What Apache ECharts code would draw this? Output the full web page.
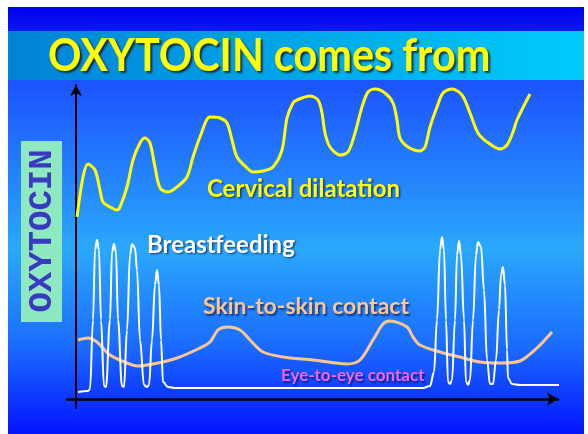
<!DOCTYPE html>
<html>
<head>
<meta charset="utf-8">
<script src="https://cdn.jsdelivr.net/npm/echarts@6/dist/echarts.min.js"></script>
<style>
  html, body { margin: 0; padding: 0; background: #ffffff; }
  #chart { width: 588px; height: 434px; }
</style>
</head>
<body>
<div id="chart"></div>
<script>
// values: x = time, y = oxytocin level (same units on all curves)
const cervical = [
  [1, 182], [7, 222], [12, 235], [19, 229], [24, 209], [27, 197], [34, 192], [41, 189],
  [44, 192], [51, 212], [57, 239], [64, 256], [69, 261], [74, 256], [79, 232], [84, 211],
  [92, 207], [101, 212], [111, 222], [117, 242], [124, 262], [134, 282], [144, 281], [151, 276],
  [156, 259], [161, 242], [171, 231], [177, 227], [187, 228], [197, 232], [206, 249], [211, 281],
  [217, 296], [221, 299], [234, 303], [242, 299], [246, 286], [249, 266], [254, 252], [264, 244],
  [272, 247], [279, 266], [286, 292], [292, 307], [299, 310], [309, 306], [317, 296], [321, 279],
  [324, 261], [332, 252], [344, 248], [349, 252], [354, 272], [361, 292], [367, 306], [376, 310],
  [386, 304], [394, 286], [402, 266], [411, 257], [424, 250], [431, 254], [437, 267], [441, 279],
  [454, 305]
];

const breastfeeding = [
  [2, 7], [12, 8], [14, 10], [17, 79], [19, 149], [21, 159], [23, 149], [25, 79], [28, 13],
  [30, 12], [34, 79], [36, 147], [38, 155], [40, 147], [42, 79], [46, 13],
  [48, 12], [51, 69], [54, 144], [56, 155], [59, 151], [61, 129], [64, 59], [68, 14],
  [71, 12], [73, 14], [76, 59], [79, 114], [81, 129], [83, 114], [85, 59], [87, 17],
  [92, 12], [99, 11], [224, 11], [347, 11],
  [354, 13], [358, 27], [361, 79], [364, 149], [366, 162], [368, 149], [370, 79], [372, 17],
  [374, 15], [376, 19], [379, 79], [381, 144], [383, 158], [385, 144], [388, 79], [390, 17],
  [392, 14], [394, 19], [397, 79], [400, 144], [402, 157], [405, 152], [408, 109], [411, 39],
  [414, 15], [417, 15], [420, 39], [423, 89], [425, 124], [427, 132], [429, 114], [431, 49],
  [432, 21], [436, 15], [444, 14], [508, 14]
];

const skinToSkin = [
  [2, 59], [12, 61], [21, 57], [34, 44], [51, 36], [61, 33], [77, 35], [101, 41],
  [124, 51], [134, 57], [142, 69], [151, 72], [164, 69], [174, 59], [187, 47], [207, 42],
  [237, 39], [271, 35], [284, 39], [297, 59], [307, 75], [314, 78], [331, 72], [337, 62],
  [344, 54], [364, 47], [384, 42], [404, 37], [424, 36], [444, 38], [461, 51], [476, 67]
];

const labels = [
  { text: 'Cervical dilatation', x: 207, y: 189, color: '#ffff00', size: 24 },
  { text: 'Breastfeeding', x: 147, y: 245, color: '#ffffff', size: 24 },
  { text: 'Skin-to-skin contact', x: 203, y: 307, color: '#fcc68e', size: 23 },
  { text: 'Eye-to-eye contact', x: 281, y: 376, color: '#f466e6', size: 17 }
];

const chart = echarts.init(document.getElementById('chart'));

const labelFont = 'Lato, "Open Sans", sans-serif';

const graphics = [
  {
    type: 'rect', z: -10, silent: true,
    shape: { x: 8, y: 7, width: 576, height: 24 },
    style: { fill: { type: 'linear', x: 0, y: 0, x2: 0, y2: 1,
      colorStops: [{ offset: 0, color: '#0000f0' }, { offset: 1, color: '#0a18f2' }] } }
  },
  {
    type: 'rect', z: -10, silent: true,
    shape: { x: 8, y: 31, width: 576, height: 49 },
    style: { fill: { type: 'linear', x: 0, y: 0, x2: 1, y2: 0,
      colorStops: [{ offset: 0, color: '#0082d6' }, { offset: 1, color: '#00ccfa' }] } }
  },
  {
    type: 'rect', z: -10, silent: true,
    shape: { x: 8, y: 80, width: 576, height: 354 },
    style: { fill: { type: 'linear', x: 0, y: 0, x2: 0, y2: 1,
      colorStops: [
        { offset: 0, color: '#1c52ff' },
        { offset: 0.48, color: '#2aa8fc' },
        { offset: 0.75, color: '#1b6cff' },
        { offset: 1, color: '#0414ff' }
      ] } }
  },
  {
    type: 'text', z: 10,
    x: 48, y: 56, scaleX: 0.9,
    style: {
      text: 'OXYTOCIN comes from',
      fill: '#ffff00',
      font: 'bold 46px Lato, sans-serif',
      textVerticalAlign: 'middle',
      textShadowColor: 'rgba(20,20,40,0.8)',
      textShadowOffsetX: 2,
      textShadowOffsetY: 2,
      textShadowBlur: 2
    }
  },
  {
    type: 'rect', z: 5,
    shape: { x: 21, y: 141, width: 41, height: 181 },
    style: { fill: '#8ee8c0' }
  },
  {
    type: 'text', z: 6,
    x: 42, y: 231, rotation: Math.PI / 2,
    style: {
      text: 'OXYTOCIN',
      fill: '#3a3ac0',
      font: 'bold 34px "Liberation Mono", "DejaVu Sans Mono", monospace',
      textAlign: 'center',
      textVerticalAlign: 'middle'
    }
  }
];

labels.forEach(function (l) {
  graphics.push({
    type: 'text', z: 10,
    x: l.x, y: l.y,
    style: {
      text: l.text,
      fill: l.color,
      font: 'bold ' + l.size + 'px ' + labelFont,
      textVerticalAlign: 'middle',
      textShadowColor: 'rgba(0,0,60,0.6)',
      textShadowOffsetX: 1.5,
      textShadowOffsetY: 1.5,
      textShadowBlur: 2
    }
  });
});

const option = {
  animation: false,
  graphic: graphics,
  grid: { left: 67, top: 85, width: 491, height: 323 },
  xAxis: {
    type: 'value',
    min: -9,
    max: 482,
    splitLine: { show: false },
    axisTick: { show: false },
    axisLabel: { show: false },
    axisLine: {
      onZero: true,
      symbol: ['none', 'arrow'],
      symbolSize: [10, 11],
      lineStyle: { color: '#000000', width: 2.5 }
    }
  },
  yAxis: {
    type: 'value',
    min: -9,
    max: 314,
    splitLine: { show: false },
    axisTick: { show: false },
    axisLabel: { show: false },
    axisLine: {
      onZero: true,
      symbol: ['none', 'arrow'],
      symbolSize: [9, 11],
      lineStyle: { color: '#000000', width: 2 }
    }
  },
  series: [
    {
      name: 'Cervical dilatation',
      type: 'line',
      data: cervical,
      smooth: 0.3,
      showSymbol: false,
      clip: false,
      lineStyle: { color: '#ffff00', width: 3 }
    },
    {
      name: 'Skin-to-skin contact',
      type: 'line',
      data: skinToSkin,
      smooth: 0.3,
      showSymbol: false,
      clip: false,
      lineStyle: { color: '#fcc68e', width: 3 }
    },
    {
      name: 'Breastfeeding',
      type: 'line',
      data: breastfeeding,
      smooth: 0.4,
      smoothMonotone: 'x',
      showSymbol: false,
      clip: false,
      lineStyle: { color: '#ffffff', width: 2 }
    }
  ]
};

chart.setOption(option);
</script>
</body>
</html>
